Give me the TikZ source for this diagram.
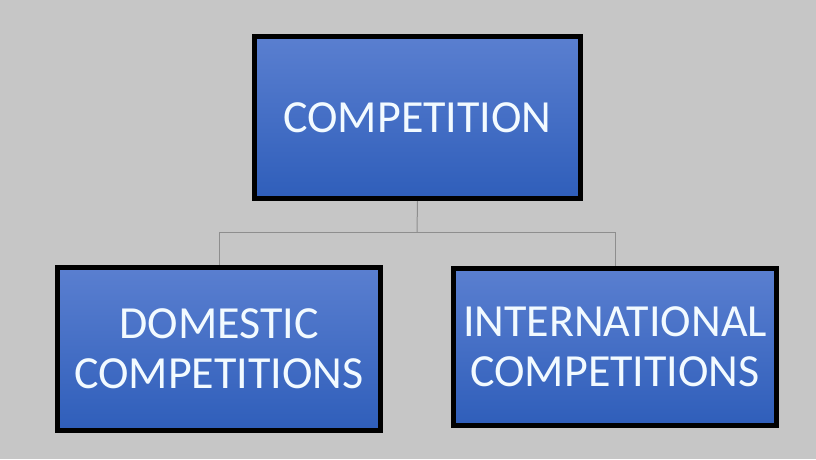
\documentclass[tikz,border=0pt]{standalone}
\usepackage{fontspec}
\setmainfont{Carlito}
\definecolor{bg}{HTML}{C6C6C6}
\definecolor{boxtop}{HTML}{5A7FD0}
\definecolor{boxbot}{HTML}{2F5EBA}
\definecolor{txt}{HTML}{F2FAFF}
\definecolor{conn}{HTML}{8E8E8E}
\begin{document}
\begin{tikzpicture}[x=1pt,y=-1pt,
  box/.style={draw=black,line width=5pt,top color=boxtop,bottom color=boxbot,
    text=txt,align=center,inner sep=0pt,font=\fontsize{46}{50}\selectfont},
  conn/.style={draw=conn,line width=1pt}]
\fill[bg] (0,0) rectangle (816,459);
\useasboundingbox (0,0) rectangle (816,459);
\node[box,minimum width=326pt,minimum height=162pt] (top) at (417.5,117.5) {COMPETITION};
\node[box,minimum width=323pt,minimum height=163pt] (left) at (219,349) {DOMESTIC\\COMPETITIONS};
\node[box,minimum width=323pt,minimum height=157pt] (right) at (615,347) {INTERNATIONAL\\COMPETITIONS};
\coordinate (mid) at (417,232);
\draw[conn] (top.south) -- (mid);
\draw[conn] (mid) -| (left.north);
\draw[conn] (mid) -| (right.north);
\end{tikzpicture}
\end{document}
